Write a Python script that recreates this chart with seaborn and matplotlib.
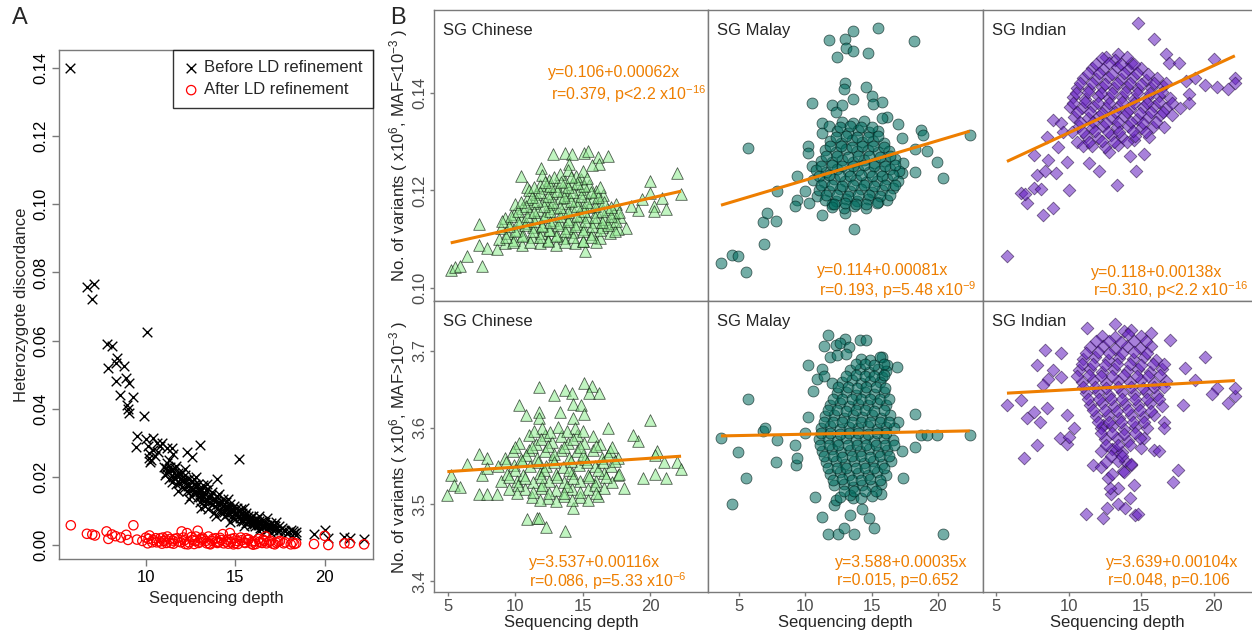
import matplotlib
matplotlib.use("Agg")
import numpy as np
import pandas as pd
import matplotlib.pyplot as plt
import seaborn as sns

sns.set_style("white")
plt.rcParams["font.family"] = ["Liberation Sans", "DejaVu Sans"]
plt.rcParams["mathtext.fontset"] = "custom"
plt.rcParams["mathtext.rm"] = "Liberation Sans"
plt.rcParams["mathtext.it"] = "Liberation Sans:italic"
plt.rcParams["axes.unicode_minus"] = True

# ---------------- panel A: heterozygote discordance ----------------
before_ld = [
    (5.75, 0.1400), (6.70, 0.0758), (7.10, 0.0767), (7.00, 0.0723), (7.80, 0.0590), (8.10, 0.0585),
    (8.40, 0.0550), (7.90, 0.0520), (8.30, 0.0535), (8.80, 0.0525), (8.30, 0.0480), (8.90, 0.0490),
    (9.05, 0.0475), (8.55, 0.0440), (9.30, 0.0435), (8.95, 0.0410), (9.00, 0.0400), (9.05, 0.0387),
    (9.90, 0.0380), (10.05, 0.0625), (9.50, 0.0320), (9.45, 0.0287),
    (10.00, 0.0310), (10.10, 0.0290), (10.20, 0.0270), (10.30, 0.0250), (10.40, 0.0280), (10.60, 0.0300),
    (10.80, 0.0290), (10.15, 0.0255), (10.50, 0.0262), (10.25, 0.0245), (10.40, 0.0315), (10.70, 0.0272),
    (10.90, 0.0300), (11.20, 0.0285), (11.50, 0.0268), (11.45, 0.0284), (12.30, 0.0272), (12.55, 0.0258),
    (13.00, 0.0295), (15.20, 0.0252), (14.00, 0.0193),
    (11.0, 0.0230), (11.1, 0.0210), (11.2, 0.0240), (11.3, 0.0195), (11.4, 0.0220), (11.5, 0.0200),
    (11.6, 0.0225), (11.7, 0.0180), (11.8, 0.0210), (11.9, 0.0195), (12.0, 0.0170), (12.0, 0.0215),
    (12.1, 0.0190), (12.2, 0.0205), (12.3, 0.0160), (12.3, 0.0180), (12.4, 0.0195), (12.5, 0.0145),
    (12.5, 0.0170), (12.6, 0.0185), (12.7, 0.0155), (12.7, 0.0195), (12.8, 0.0170), (12.9, 0.0140),
    (12.9, 0.0180), (13.0, 0.0155), (13.0, 0.0125), (13.1, 0.0165), (13.2, 0.0140), (13.2, 0.0175),
    (13.3, 0.0115), (13.3, 0.0150), (13.4, 0.0130), (13.5, 0.0165), (13.5, 0.0105), (13.6, 0.0140),
    (13.7, 0.0120), (13.7, 0.0155), (13.8, 0.0095), (13.9, 0.0130), (14.0, 0.0110), (14.0, 0.0145),
    (14.1, 0.0125), (14.2, 0.0095), (14.3, 0.0135), (14.3, 0.0115), (14.4, 0.0085), (14.5, 0.0125),
    (14.5, 0.0105), (14.6, 0.0095), (14.7, 0.0120), (14.8, 0.0085), (14.8, 0.0105), (14.9, 0.0115),
    (15.0, 0.0075), (15.0, 0.0095), (15.1, 0.0110), (15.2, 0.0085), (15.3, 0.0105), (15.3, 0.0070),
    (15.4, 0.0095), (15.5, 0.0080), (15.6, 0.0065), (15.6, 0.0095), (15.7, 0.0085), (15.8, 0.0075),
    (15.9, 0.0060), (16.0, 0.0085), (16.0, 0.0070), (16.1, 0.0055), (16.2, 0.0075), (16.3, 0.0065),
    (16.4, 0.0050), (16.5, 0.0070), (16.6, 0.0060), (16.7, 0.0045), (16.8, 0.0080), (16.9, 0.0055),
    (17.0, 0.0065), (17.1, 0.0045), (17.2, 0.0055), (17.4, 0.0040), (17.5, 0.0045), (17.6, 0.0050),
    (17.8, 0.0040), (17.9, 0.0035), (18.1, 0.0045), (18.2, 0.0040), (18.3, 0.0035), (18.4, 0.0030),
    (19.4, 0.0033), (20.0, 0.0045), (20.2, 0.0020), (21.1, 0.0025), (21.4, 0.0020), (22.2, 0.0018),
    (11.05, 0.0205), (11.15, 0.0225), (11.25, 0.0215), (11.35, 0.0230), (11.45, 0.0185), (11.55, 0.0212),
    (11.65, 0.0198), (11.75, 0.0205), (11.85, 0.0182), (11.95, 0.0208), (12.05, 0.0188), (12.15, 0.0168),
    (12.25, 0.0192), (12.35, 0.0172), (12.45, 0.0158), (12.55, 0.0188), (12.65, 0.0165), (12.75, 0.0178),
    (12.85, 0.0155), (12.95, 0.0163), (13.05, 0.0142), (13.15, 0.0150), (13.25, 0.0128), (13.35, 0.0162),
    (13.45, 0.0142), (13.55, 0.0125), (13.65, 0.0148), (13.75, 0.0132), (13.85, 0.0115), (13.95, 0.0140),
    (14.05, 0.0120), (14.15, 0.0102), (14.25, 0.0125), (14.35, 0.0098), (14.45, 0.0112), (14.55, 0.0090),
    (14.65, 0.0110), (14.75, 0.0098), (14.85, 0.0080), (14.95, 0.0102), (15.05, 0.0088), (15.15, 0.0100),
    (15.25, 0.0078), (15.35, 0.0090), (15.45, 0.0072), (15.55, 0.0088), (15.65, 0.0078), (15.75, 0.0068),
    (15.85, 0.0082), (15.95, 0.0070), (16.05, 0.0062), (16.15, 0.0072), (16.25, 0.0058), (16.35, 0.0070),
    (16.45, 0.0062), (16.55, 0.0052), (16.65, 0.0068), (16.75, 0.0058), (16.85, 0.0048), (16.95, 0.0060),
    (17.05, 0.0052), (17.15, 0.0060), (17.30, 0.0048), (17.45, 0.0055), (17.70, 0.0044), (18.00, 0.0038),
    (18.40, 0.0038), (11.3, 0.0250), (11.7, 0.0232), (12.2, 0.0222), (12.8, 0.0200), (13.4, 0.0178),
    (14.1, 0.0150), (14.6, 0.0135), (15.5, 0.0110), (16.3, 0.0085), (17.3, 0.0068), (11.8, 0.0160),
    (12.4, 0.0135), (13.1, 0.0108), (13.9, 0.0085), (14.7, 0.0068), (15.5, 0.0055), (16.3, 0.0042),
    (17.0, 0.0035),
]
after_ld = [
    (5.80, 0.0058), (6.70, 0.0033), (7.00, 0.0031), (7.15, 0.0028), (7.80, 0.0040), (7.90, 0.0018),
    (8.10, 0.0031), (8.30, 0.0026), (8.60, 0.0022), (8.90, 0.0030), (9.00, 0.0015), (9.30, 0.0058),
    (9.50, 0.0016), (9.80, 0.0012), (10.00, 0.0022), (10.20, 0.0028), (10.40, 0.0015), (10.60, 0.0008),
    (10.80, 0.0020), (11.00, 0.0012), (11.20, 0.0025), (11.40, 0.0006), (11.60, 0.0018), (11.80, 0.0010),
    (12.00, 0.0040), (12.10, 0.0022), (12.30, 0.0035), (12.40, 0.0008), (12.60, 0.0015), (12.80, 0.0025),
    (12.90, 0.0042), (13.00, 0.0010), (13.20, 0.0018), (13.40, 0.0005), (13.50, 0.0025), (13.70, 0.0012),
    (13.90, 0.0020), (14.00, 0.0006), (14.20, 0.0015), (14.30, 0.0032), (14.50, 0.0010), (14.70, 0.0035),
    (14.80, 0.0018), (15.00, 0.0005), (15.10, 0.0012), (15.30, 0.0022), (15.50, 0.0008), (15.70, 0.0015),
    (15.90, 0.0004), (16.10, 0.0011), (16.30, 0.0018), (16.50, 0.0006), (16.70, 0.0025), (16.90, 0.0009),
    (17.10, 0.0004), (17.40, 0.0010), (17.70, 0.0005), (18.20, 0.0008), (18.30, 0.0003), (19.40, 0.0003),
    (20.00, 0.0027), (20.20, 0.0000), (21.10, 0.0005), (21.40, 0.0005), (22.20, 0.0002),
    (10.10, 0.0005), (10.90, 0.0004), (11.50, 0.0013), (12.20, 0.0003), (13.10, 0.0016), (13.60, 0.0002),
    (14.10, 0.0009), (14.90, 0.0002), (15.60, 0.0020), (16.00, 0.0001), (16.60, 0.0012), (17.30, 0.0007),
    (11.10, 0.0016), (12.70, 0.0003), (14.60, 0.0004),
    (10.15, 0.0018), (10.35, 0.0008), (10.55, 0.0020), (10.75, 0.0010), (10.95, 0.0022), (11.15, 0.0006),
    (11.35, 0.0018), (11.55, 0.0004), (11.75, 0.0020), (11.95, 0.0008), (12.15, 0.0014), (12.35, 0.0002),
    (12.55, 0.0024), (12.75, 0.0012), (12.95, 0.0006), (13.15, 0.0022), (13.35, 0.0012), (13.55, 0.0004),
    (13.75, 0.0018), (13.95, 0.0009), (14.15, 0.0021), (14.35, 0.0005), (14.55, 0.0016), (14.75, 0.0008),
    (14.95, 0.0020), (15.15, 0.0003), (15.35, 0.0014), (15.55, 0.0006), (15.75, 0.0017), (15.95, 0.0010),
    (16.15, 0.0003), (16.35, 0.0009), (16.55, 0.0016), (16.75, 0.0005), (16.95, 0.0013), (17.20, 0.0002),
    (17.50, 0.0012), (17.80, 0.0008), (18.10, 0.0002), (18.40, 0.0005),
]

# ---------------- panel B: variants vs depth ----------------
groups = ["SG Chinese", "SG Malay", "SG Indian"]

chinese_rare = [
    (5.2, 0.1037), (5.5, 0.1043), (5.9, 0.1045), (6.4, 0.1066), (7.5, 0.1045), (7.3, 0.1130), (7.3, 0.1088),
    (7.9, 0.1082), (8.6, 0.1080), (15.15, 0.1076), (18.2, 0.1123), (22.0, 0.1236), (22.3, 0.1193),
    (20.0, 0.1220), (20.0, 0.1195), (20.9, 0.1185), (21.2, 0.1162), (20.3, 0.1168), (20.3, 0.1157),
    (19.4, 0.1182), (19.1, 0.1159), (18.6, 0.1168), (12.8, 0.1275), (13.7, 0.1277), (14.2, 0.1275),
    (15.1, 0.1277), (15.4, 0.1280), (16.1, 0.1268), (16.85, 0.1270), (16.2, 0.1254), (14.0, 0.1254),
    (15.7, 0.1252), (11.9, 0.1246), (10.4, 0.1230), (10.9, 0.1207),
    (9.2, 0.1092), (10.5, 0.1088), (11.8, 0.1091), (13.0, 0.1087), (14.4, 0.1093),
    (8.8, 0.1101), (9.9, 0.1098), (11.2, 0.1104), (12.4, 0.1099), (13.6, 0.1102), (15.0, 0.1097), (16.3, 0.1103),
    (9.4, 0.1112), (10.6, 0.1108), (11.9, 0.1113), (13.1, 0.1109), (14.3, 0.1114), (15.7, 0.1110), (17.0, 0.1112),
    (8.9, 0.1122), (10.1, 0.1119), (11.3, 0.1124), (12.6, 0.1118), (13.8, 0.1123), (15.1, 0.1120), (16.4, 0.1125),
    (17.6, 0.1121), (9.6, 0.1131), (10.8, 0.1134), (12.0, 0.1129), (13.3, 0.1133), (14.6, 0.1130), (15.9, 0.1135),
    (17.1, 0.1132), (9.2, 0.1143), (10.4, 0.1140), (11.6, 0.1144), (12.8, 0.1139), (14.0, 0.1142), (15.3, 0.1145),
    (16.6, 0.1141), (17.8, 0.1146), (9.9, 0.1152), (11.1, 0.1155), (12.3, 0.1151), (13.5, 0.1154), (14.8, 0.1150),
    (16.0, 0.1156), (17.3, 0.1153), (10.5, 0.1163), (11.7, 0.1160), (12.9, 0.1164), (14.2, 0.1161), (15.5, 0.1165),
    (16.8, 0.1162), (10.0, 0.1172), (11.3, 0.1175), (12.5, 0.1171), (13.7, 0.1174), (15.0, 0.1170), (16.2, 0.1176),
    (17.5, 0.1173), (10.9, 0.1183), (12.1, 0.1180), (13.3, 0.1184), (14.5, 0.1181), (15.8, 0.1185),
    (11.5, 0.1192), (12.7, 0.1195), (13.9, 0.1191), (15.2, 0.1194), (16.5, 0.1190),
    (11.0, 0.1201), (12.3, 0.1204), (13.5, 0.1200), (14.8, 0.1203), (16.0, 0.1199),
    (11.8, 0.1212), (13.0, 0.1209), (14.2, 0.1213), (15.5, 0.1210), (12.5, 0.1222), (13.7, 0.1219), (14.9, 0.1224),
    (12.0, 0.1231), (13.3, 0.1234), (14.5, 0.1230), (13.9, 0.1242), (15.0, 0.1239),
    (9.8, 0.1095), (11.1, 0.1094), (12.4, 0.1096), (13.7, 0.1094), (15.0, 0.1096), (16.0, 0.1095),
    (9.3, 0.1105), (10.5, 0.1106), (11.8, 0.1104), (13.0, 0.1106), (14.3, 0.1105), (15.6, 0.1104),
    (10.0, 0.1117), (11.3, 0.1116), (12.5, 0.1118), (13.7, 0.1116), (15.0, 0.1117), (16.3, 0.1118), (17.4, 0.1116),
    (9.5, 0.1127), (10.7, 0.1128), (12.0, 0.1126), (13.2, 0.1128), (14.4, 0.1127), (15.7, 0.1126), (16.9, 0.1128),
    (9.0, 0.1137), (10.2, 0.1136), (11.4, 0.1138), (12.6, 0.1136), (13.9, 0.1137), (15.2, 0.1138), (16.4, 0.1136),
    (17.5, 0.1137), (9.7, 0.1147), (10.9, 0.1148), (12.1, 0.1146), (13.3, 0.1148), (14.6, 0.1147), (15.9, 0.1146),
    (17.1, 0.1148), (10.2, 0.1157), (11.4, 0.1156), (12.6, 0.1158), (13.9, 0.1156), (15.1, 0.1157), (16.4, 0.1158),
    (17.7, 0.1156), (10.8, 0.1167), (12.1, 0.1168), (13.3, 0.1166), (14.6, 0.1168), (15.9, 0.1167), (17.1, 0.1166),
    (10.4, 0.1177), (11.6, 0.1178), (12.8, 0.1176), (14.1, 0.1178), (15.3, 0.1177), (16.6, 0.1176),
    (11.2, 0.1187), (12.4, 0.1188), (13.6, 0.1186), (14.9, 0.1188), (16.1, 0.1187),
    (11.8, 0.1197), (13.1, 0.1198), (14.3, 0.1196), (15.6, 0.1197),
    (11.4, 0.1207), (12.6, 0.1208), (13.9, 0.1206), (15.1, 0.1208), (16.3, 0.1207),
    (12.2, 0.1217), (13.4, 0.1218), (14.6, 0.1216), (12.9, 0.1227), (14.1, 0.1228), (15.3, 0.1226),
]
malay_rare = [
    (3.65, 0.1051), (4.5, 0.1068), (4.9, 0.1066), (5.5, 0.1033), (6.9, 0.1090), (6.8, 0.1135), (7.1, 0.1154),
    (7.8, 0.1137), (7.85, 0.1199), (5.7, 0.1287), (9.35, 0.1230), (9.4, 0.1180), (9.2, 0.1168), (10.0, 0.1199),
    (10.2, 0.1291), (10.2, 0.1277), (10.5, 0.1380), (11.8, 0.1509), (13.0, 0.1510), (13.6, 0.1527),
    (15.45, 0.1533), (18.2, 0.1507), (13.1, 0.1492), (13.6, 0.1486), (12.4, 0.1474), (14.7, 0.1482),
    (13.0, 0.1420), (12.9, 0.1408), (14.55, 0.1412), (15.0, 0.1394), (15.75, 0.1382), (15.1, 0.1377),
    (13.6, 0.1387), (12.0, 0.1375), (12.3, 0.1361), (12.8, 0.1375), (13.7, 0.1121), (22.4, 0.1314),
    (18.75, 0.1324), (18.9, 0.1314), (19.2, 0.1281), (19.95, 0.1258), (20.4, 0.1225), (18.3, 0.1238),
    (18.3, 0.1285), (17.3, 0.1236), (17.4, 0.1256), (17.3, 0.1308), (17.0, 0.1336), (16.2, 0.1350),
    (15.8, 0.1349), (11.3, 0.1339), (11.3, 0.1318), (11.8, 0.1332), (10.5, 0.1250), (10.9, 0.1188),
    (10.3, 0.1174), (11.3, 0.1150), (13.0, 0.1154), (12.05, 0.1172),
    (12.8, 0.1341), (13.6, 0.1338), (14.4, 0.1343), (12.4, 0.1322), (13.2, 0.1318), (14.0, 0.1324), (14.8, 0.1319),
    (15.5, 0.1321), (11.9, 0.1301), (12.7, 0.1298), (13.5, 0.1303), (14.3, 0.1299), (15.1, 0.1302), (15.9, 0.1297),
    (11.5, 0.1282), (12.3, 0.1279), (13.1, 0.1284), (13.9, 0.1280), (14.7, 0.1283), (15.5, 0.1278), (16.3, 0.1281),
    (11.2, 0.1261), (12.0, 0.1258), (12.8, 0.1263), (13.6, 0.1259), (14.4, 0.1262), (15.2, 0.1257), (16.0, 0.1260),
    (16.8, 0.1264), (10.8, 0.1241), (11.6, 0.1238), (12.4, 0.1243), (13.2, 0.1239), (14.0, 0.1242), (14.8, 0.1237),
    (15.6, 0.1240), (16.4, 0.1244), (17.1, 0.1239), (10.6, 0.1221), (11.4, 0.1218), (12.2, 0.1223), (13.0, 0.1219),
    (13.8, 0.1222), (14.6, 0.1217), (15.4, 0.1220), (16.2, 0.1224), (17.0, 0.1219), (11.0, 0.1201), (11.8, 0.1198),
    (12.6, 0.1203), (13.4, 0.1199), (14.2, 0.1202), (15.0, 0.1197), (15.8, 0.1200), (16.6, 0.1204),
    (11.5, 0.1181), (12.3, 0.1178), (13.1, 0.1183), (13.9, 0.1179), (14.7, 0.1182), (15.5, 0.1177), (16.2, 0.1180),
    (12.0, 0.1166), (12.9, 0.1163), (13.7, 0.1167), (14.6, 0.1164),
    (12.6, 0.1330), (13.4, 0.1331), (14.2, 0.1329), (15.0, 0.1330), (12.3, 0.1310), (13.1, 0.1311), (13.9, 0.1309),
    (14.7, 0.1310), (15.5, 0.1311), (11.9, 0.1290), (12.7, 0.1291), (13.5, 0.1289), (14.3, 0.1290), (15.1, 0.1291),
    (15.9, 0.1289), (11.6, 0.1270), (12.4, 0.1271), (13.2, 0.1269), (14.0, 0.1270), (14.8, 0.1271), (15.6, 0.1269),
    (16.4, 0.1270), (11.2, 0.1250), (12.0, 0.1251), (12.8, 0.1249), (13.6, 0.1250), (14.4, 0.1251), (15.2, 0.1249),
    (16.0, 0.1250), (16.8, 0.1251), (11.0, 0.1230), (11.8, 0.1231), (12.6, 0.1229), (13.4, 0.1230), (14.2, 0.1231),
    (15.0, 0.1229), (15.8, 0.1230), (16.6, 0.1231), (11.2, 0.1210), (12.0, 0.1211), (12.8, 0.1209), (13.6, 0.1210),
    (14.4, 0.1211), (15.2, 0.1209), (16.0, 0.1210), (16.8, 0.1211), (11.6, 0.1190), (12.4, 0.1191), (13.2, 0.1189),
    (14.0, 0.1190), (14.8, 0.1191), (15.6, 0.1189), (16.4, 0.1190), (12.2, 0.1173), (13.0, 0.1174), (13.8, 0.1172),
    (14.6, 0.1173), (15.4, 0.1174),
]
indian_rare = [
    (5.75, 0.1066), (6.7, 0.1195), (7.1, 0.1174), (7.0, 0.1193), (8.25, 0.1150), (8.95, 0.1164), (10.05, 0.1201),
    (7.6, 0.1205), (8.1, 0.1203), (7.8, 0.1232), (8.35, 0.1240), (9.1, 0.1236), (8.6, 0.1263), (7.6, 0.1273),
    (8.5, 0.1310), (8.9, 0.1345), (9.45, 0.1339), (9.25, 0.1289), (9.9, 0.1258), (13.3, 0.1211), (14.65, 0.1240),
    (15.2, 0.1275), (12.1, 0.1240), (11.4, 0.1256), (12.8, 0.1279), (14.25, 0.1270), (14.8, 0.1544),
    (15.9, 0.1510), (12.6, 0.1474), (13.4, 0.1480), (14.3, 0.1461), (16.7, 0.1480), (16.9, 0.1461),
    (17.6, 0.1461), (20.0, 0.1470), (19.4, 0.1416), (20.2, 0.1412), (21.0, 0.1408), (21.45, 0.1431),
    (21.45, 0.1420), (18.7, 0.1431), (18.1, 0.1425), (18.3, 0.1398), (18.3, 0.1380), (17.65, 0.1369),
    (17.1, 0.1355), (16.6, 0.1330), (15.55, 0.1310), (14.5, 0.1304), (9.6, 0.1320), (10.2, 0.1320),
    (10.6, 0.1300), (11.0, 0.1290),
    (12.3, 0.1471), (13.2, 0.1468), (14.0, 0.1473), (11.6, 0.1451), (12.4, 0.1448), (13.3, 0.1453), (14.1, 0.1449),
    (15.0, 0.1452), (11.0, 0.1431), (11.9, 0.1428), (12.7, 0.1433), (13.6, 0.1429), (14.4, 0.1432), (15.3, 0.1427),
    (16.1, 0.1430), (10.6, 0.1411), (11.4, 0.1408), (12.3, 0.1413), (13.1, 0.1409), (14.0, 0.1412), (14.8, 0.1407),
    (15.7, 0.1410), (16.5, 0.1414), (10.3, 0.1391), (11.1, 0.1388), (12.0, 0.1393), (12.8, 0.1389), (13.7, 0.1392),
    (14.5, 0.1387), (15.4, 0.1390), (16.2, 0.1394), (17.0, 0.1389), (10.1, 0.1371), (10.9, 0.1368), (11.7, 0.1373),
    (12.6, 0.1369), (13.4, 0.1372), (14.2, 0.1367), (15.1, 0.1370), (15.9, 0.1374), (16.7, 0.1369),
    (10.4, 0.1351), (11.3, 0.1348), (12.1, 0.1353), (13.0, 0.1349), (13.8, 0.1352), (14.7, 0.1347), (15.5, 0.1350),
    (16.3, 0.1354), (10.7, 0.1331), (11.6, 0.1328), (12.4, 0.1333), (13.3, 0.1329), (14.1, 0.1332), (15.0, 0.1327),
    (15.8, 0.1330), (11.2, 0.1311), (12.0, 0.1308), (12.9, 0.1313), (13.7, 0.1309), (14.6, 0.1312),
    (11.6, 0.1291), (12.5, 0.1288), (13.4, 0.1293),
    (11.9, 0.1460), (12.8, 0.1461), (13.6, 0.1459), (14.5, 0.1460), (11.3, 0.1440), (12.1, 0.1441), (13.0, 0.1439),
    (13.8, 0.1440), (14.7, 0.1441), (15.5, 0.1439), (10.8, 0.1420), (11.6, 0.1421), (12.5, 0.1419), (13.3, 0.1420),
    (14.2, 0.1421), (15.0, 0.1419), (15.9, 0.1420), (16.7, 0.1421), (10.5, 0.1400), (11.3, 0.1401), (12.2, 0.1399),
    (13.0, 0.1400), (13.9, 0.1401), (14.7, 0.1399), (15.6, 0.1400), (16.4, 0.1401), (10.3, 0.1380), (11.1, 0.1381),
    (12.0, 0.1379), (12.8, 0.1380), (13.7, 0.1381), (14.5, 0.1379), (15.4, 0.1380), (16.2, 0.1381), (17.1, 0.1379),
    (10.6, 0.1360), (11.5, 0.1361), (12.3, 0.1359), (13.2, 0.1360), (14.0, 0.1361), (14.9, 0.1359), (15.7, 0.1360),
    (16.5, 0.1361), (10.8, 0.1340), (11.7, 0.1341), (12.6, 0.1339), (13.4, 0.1340), (14.3, 0.1341), (15.1, 0.1339),
    (16.0, 0.1340), (11.0, 0.1320), (11.8, 0.1321), (12.7, 0.1319), (13.5, 0.1320), (14.4, 0.1321), (15.3, 0.1319),
    (11.4, 0.1300), (12.3, 0.1301), (13.1, 0.1299), (14.0, 0.1300),
]

chinese_common = [
    (4.95, 3.5117), (5.2, 3.538), (5.45, 3.526), (5.9, 3.523), (6.4, 3.553), (7.3, 3.566), (7.3, 3.513),
    (7.9, 3.561), (7.9, 3.514), (8.6, 3.514), (7.5, 3.538), (7.9, 3.548), (11.75, 3.653), (10.3, 3.629),
    (10.8, 3.617), (11.75, 3.620), (11.75, 3.612), (12.9, 3.642), (13.3, 3.620), (13.7, 3.649), (14.2, 3.645),
    (14.3, 3.631), (15.1, 3.658), (15.7, 3.654), (15.45, 3.645), (16.2, 3.645), (14.9, 3.630), (15.1, 3.618),
    (14.3, 3.613), (10.9, 3.481), (11.6, 3.483), (11.75, 3.482), (12.3, 3.471), (13.7, 3.465), (14.3, 3.496),
    (20.0, 3.610), (20.5, 3.570), (20.4, 3.564), (21.0, 3.555), (21.2, 3.535), (20.4, 3.540), (22.0, 3.555),
    (22.3, 3.546), (19.5, 3.535), (19.1, 3.583), (18.7, 3.591), (18.1, 3.521), (17.6, 3.538), (16.85, 3.599),
    (9.5, 3.5205), (10.7, 3.5195), (11.9, 3.5210), (13.0, 3.5190), (14.2, 3.5205), (15.4, 3.5195), (16.6, 3.5210),
    (8.9, 3.5300), (10.1, 3.5310), (11.3, 3.5295), (12.5, 3.5305), (13.6, 3.5290), (14.8, 3.5310), (16.0, 3.5300),
    (17.2, 3.5295), (9.4, 3.5400), (10.6, 3.5390), (11.8, 3.5410), (13.0, 3.5395), (14.2, 3.5405), (15.4, 3.5390),
    (16.6, 3.5410), (17.7, 3.5400), (8.7, 3.5500), (9.9, 3.5510), (11.1, 3.5495), (12.3, 3.5505), (13.5, 3.5490),
    (14.7, 3.5510), (15.9, 3.5500), (17.1, 3.5495), (9.2, 3.5600), (10.4, 3.5590), (11.6, 3.5610), (12.8, 3.5595),
    (14.0, 3.5605), (15.2, 3.5590), (16.4, 3.5610), (17.6, 3.5600), (9.8, 3.5700), (11.0, 3.5710), (12.2, 3.5695),
    (13.4, 3.5705), (14.6, 3.5690), (15.8, 3.5710), (17.0, 3.5700), (10.3, 3.5800), (11.5, 3.5790), (12.7, 3.5810),
    (13.9, 3.5795), (15.1, 3.5805), (16.3, 3.5790), (11.0, 3.5900), (12.2, 3.5910), (13.4, 3.5895), (14.6, 3.5905),
    (15.8, 3.5890), (12.0, 3.6000), (13.2, 3.6010), (14.4, 3.5995), (11.2, 3.5100), (12.4, 3.5090), (13.6, 3.5105),
    (14.8, 3.5095), (16.1, 3.5110), (10.2, 3.5250), (12.0, 3.5255), (13.8, 3.5245), (15.9, 3.5250),
    (10.0, 3.5450), (12.1, 3.5455), (14.0, 3.5445), (16.1, 3.5450), (10.8, 3.5650), (12.9, 3.5655), (15.0, 3.5645),
    (16.9, 3.5650), (11.9, 3.5850), (14.3, 3.5855),
    (10.1, 3.5155), (11.3, 3.5160), (12.5, 3.5150), (13.6, 3.5155), (14.8, 3.5160), (16.0, 3.5150),
    (9.5, 3.5355), (10.7, 3.5350), (11.9, 3.5360), (13.1, 3.5355), (14.3, 3.5350), (15.5, 3.5360), (16.7, 3.5355),
    (9.3, 3.5555), (10.5, 3.5560), (11.7, 3.5550), (12.9, 3.5555), (14.1, 3.5560), (15.3, 3.5550), (16.5, 3.5555),
    (17.4, 3.5560), (10.0, 3.5755), (11.2, 3.5750), (12.4, 3.5760), (13.6, 3.5755), (14.8, 3.5750), (16.0, 3.5760),
    (17.2, 3.5755), (11.4, 3.5955), (12.6, 3.5950), (13.8, 3.5960), (15.0, 3.5955), (11.8, 3.5055), (13.0, 3.5050),
    (14.2, 3.5060), (15.4, 3.5055),
]
malay_common = [
    (3.65, 3.587), (4.9, 3.568), (4.5, 3.500), (5.5, 3.534), (5.7, 3.638), (6.8, 3.596), (7.0, 3.599),
    (7.8, 3.555), (7.85, 3.584), (9.3, 3.551), (9.4, 3.560), (9.2, 3.577), (10.0, 3.593), (10.2, 3.614),
    (10.2, 3.682), (10.55, 3.648), (10.7, 3.510), (11.3, 3.484), (11.7, 3.462), (12.45, 3.462), (12.9, 3.469),
    (13.7, 3.462), (13.4, 3.486), (14.3, 3.494), (14.8, 3.483), (15.2, 3.469), (20.4, 3.461), (12.2, 3.499),
    (12.3, 3.506), (13.6, 3.509), (15.7, 3.513), (17.4, 3.535), (18.3, 3.575), (18.3, 3.618), (17.3, 3.569),
    (18.75, 3.591), (19.2, 3.590), (19.95, 3.590), (22.4, 3.590), (17.0, 3.608), (16.95, 3.679), (16.2, 3.682),
    (15.8, 3.692), (15.8, 3.666), (11.7, 3.721), (13.0, 3.715), (14.1, 3.714), (14.6, 3.714), (11.4, 3.706),
    (12.3, 3.708), (12.6, 3.710), (13.3, 3.705), (11.85, 3.692), (12.4, 3.695), (13.1, 3.696), (11.3, 3.677),
    (10.9, 3.664), (11.45, 3.667), (12.0, 3.658),
    (14.2, 3.690), (14.9, 3.688), (15.6, 3.692), (13.4, 3.675), (14.1, 3.677), (14.8, 3.673), (15.5, 3.676),
    (16.1, 3.674), (12.8, 3.660), (13.5, 3.662), (14.2, 3.658), (14.9, 3.661), (15.6, 3.659), (12.4, 3.645),
    (13.1, 3.647), (13.8, 3.643), (14.5, 3.646), (15.2, 3.644), (15.9, 3.647), (11.9, 3.630), (12.6, 3.632),
    (13.3, 3.628), (14.0, 3.631), (14.7, 3.629), (15.4, 3.632), (16.1, 3.630), (11.5, 3.615), (12.2, 3.617),
    (12.9, 3.613), (13.6, 3.616), (14.3, 3.614), (15.0, 3.617), (15.7, 3.613), (16.4, 3.616), (11.2, 3.600),
    (11.9, 3.602), (12.6, 3.598), (13.3, 3.601), (14.0, 3.599), (14.7, 3.602), (15.4, 3.598), (16.1, 3.601),
    (16.7, 3.599), (11.0, 3.585), (11.7, 3.587), (12.4, 3.583), (13.1, 3.586), (13.8, 3.584), (14.5, 3.587),
    (15.2, 3.583), (15.9, 3.586), (16.6, 3.584), (11.3, 3.570), (12.0, 3.572), (12.7, 3.568), (13.4, 3.571),
    (14.1, 3.569), (14.8, 3.572), (15.5, 3.568), (16.2, 3.571), (11.6, 3.555), (12.3, 3.557), (13.0, 3.553),
    (13.7, 3.556), (14.4, 3.554), (15.1, 3.557), (15.8, 3.553), (16.5, 3.556), (11.9, 3.540), (12.6, 3.542),
    (13.3, 3.538), (14.0, 3.541), (14.7, 3.539), (15.4, 3.542), (16.1, 3.538), (12.2, 3.525), (12.9, 3.527),
    (13.6, 3.523), (14.3, 3.526), (15.0, 3.524), (15.7, 3.527), (12.6, 3.510), (13.4, 3.512), (14.2, 3.508),
    (15.0, 3.511),
    (13.8, 3.6825), (14.5, 3.6830), (15.2, 3.6820), (15.9, 3.6825), (13.1, 3.6675), (13.8, 3.6680), (14.5, 3.6670),
    (15.2, 3.6675), (15.9, 3.6680), (12.5, 3.6525), (13.2, 3.6530), (13.9, 3.6520), (14.6, 3.6525), (15.3, 3.6530),
    (16.0, 3.6520), (12.1, 3.6375), (12.8, 3.6380), (13.5, 3.6370), (14.2, 3.6375), (14.9, 3.6380), (15.6, 3.6370),
    (16.3, 3.6375), (11.7, 3.6225), (12.4, 3.6230), (13.1, 3.6220), (13.8, 3.6225), (14.5, 3.6230), (15.2, 3.6220),
    (15.9, 3.6225), (11.4, 3.6075), (12.1, 3.6080), (12.8, 3.6070), (13.5, 3.6075), (14.2, 3.6080), (14.9, 3.6070),
    (15.6, 3.6075), (16.3, 3.6080), (11.2, 3.5925), (11.9, 3.5930), (12.6, 3.5920), (13.3, 3.5925), (14.0, 3.5930),
    (14.7, 3.5920), (15.4, 3.5925), (16.1, 3.5930), (11.1, 3.5775), (11.8, 3.5780), (12.5, 3.5770), (13.2, 3.5775),
    (13.9, 3.5780), (14.6, 3.5770), (15.3, 3.5775), (16.0, 3.5780), (16.7, 3.5770), (11.4, 3.5625), (12.1, 3.5630),
    (12.8, 3.5620), (13.5, 3.5625), (14.2, 3.5630), (14.9, 3.5620), (15.6, 3.5625), (16.3, 3.5630), (11.7, 3.5475),
    (12.4, 3.5480), (13.1, 3.5470), (13.8, 3.5475), (14.5, 3.5480), (15.2, 3.5470), (15.9, 3.5475), (12.1, 3.5325),
    (12.8, 3.5330), (13.5, 3.5320), (14.2, 3.5325), (14.9, 3.5330), (15.6, 3.5320), (12.9, 3.5175), (13.7, 3.5180),
    (14.5, 3.5170), (15.3, 3.5175),
]
indian_common = [
    (5.75, 3.630), (6.7, 3.636), (6.95, 3.560), (7.1, 3.612), (7.6, 3.621), (8.05, 3.608), (7.85, 3.577),
    (7.8, 3.682), (8.35, 3.701), (8.55, 3.664), (8.2, 3.656), (8.5, 3.626), (8.9, 3.675), (9.45, 3.697),
    (9.5, 3.666), (9.4, 3.586), (9.9, 3.579), (10.05, 3.588), (9.9, 3.616), (10.4, 3.600), (11.25, 3.730),
    (13.2, 3.735), (13.8, 3.726), (14.3, 3.727), (15.7, 3.723), (17.0, 3.714), (19.4, 3.692), (18.0, 3.678),
    (18.7, 3.662), (20.2, 3.652), (19.9, 3.644), (21.0, 3.632), (21.45, 3.641), (21.45, 3.652), (17.2, 3.529),
    (17.5, 3.545), (17.85, 3.629), (11.2, 3.488), (12.4, 3.482), (12.65, 3.495), (13.4, 3.500), (13.9, 3.496),
    (14.6, 3.486), (14.8, 3.488), (14.2, 3.508), (12.9, 3.513), (13.4, 3.521), (14.5, 3.526), (12.85, 3.522),
    (11.65, 3.552), (12.2, 3.549), (12.7, 3.535), (13.75, 3.544), (14.3, 3.552), (13.9, 3.557), (13.25, 3.571),
    (15.0, 3.574), (15.9, 3.571), (16.2, 3.569), (15.2, 3.587), (16.6, 3.608), (16.6, 3.599), (12.4, 3.603),
    (12.3, 3.720), (13.2, 3.718), (14.1, 3.722), (15.0, 3.719), (11.5, 3.705), (12.4, 3.707), (13.2, 3.703),
    (14.0, 3.706), (14.9, 3.704), (15.7, 3.707), (11.0, 3.690), (11.8, 3.692), (12.7, 3.688), (13.5, 3.691),
    (14.4, 3.689), (15.2, 3.692), (16.0, 3.688), (10.7, 3.675), (11.5, 3.677), (12.3, 3.673), (13.1, 3.676),
    (14.0, 3.674), (14.8, 3.677), (15.6, 3.673), (16.4, 3.676), (10.9, 3.660), (11.7, 3.662), (12.6, 3.658),
    (13.4, 3.661), (14.2, 3.659), (15.0, 3.662), (15.9, 3.658), (16.7, 3.661), (11.2, 3.645), (12.0, 3.647),
    (12.8, 3.643), (13.7, 3.646), (14.5, 3.644), (15.3, 3.647), (16.1, 3.643), (11.5, 3.630), (12.3, 3.632),
    (13.1, 3.628), (13.9, 3.631), (14.8, 3.629), (15.6, 3.632), (16.4, 3.628), (11.9, 3.615), (12.7, 3.617),
    (13.5, 3.613), (14.3, 3.616), (15.1, 3.614), (15.9, 3.617), (12.2, 3.600), (13.0, 3.602), (13.8, 3.598),
    (14.6, 3.601), (15.4, 3.599), (12.5, 3.585), (13.3, 3.587), (14.1, 3.583), (14.9, 3.586), (12.2, 3.570),
    (13.0, 3.572), (13.7, 3.568), (12.6, 3.555), (13.4, 3.557), (14.3, 3.553), (13.0, 3.540), (13.8, 3.542),
    (11.9, 3.7125), (12.8, 3.7130), (13.6, 3.7120), (14.5, 3.7125), (15.3, 3.7130), (11.2, 3.6975), (12.0, 3.6980),
    (12.8, 3.6970), (13.7, 3.6975), (14.5, 3.6980), (15.4, 3.6970), (10.9, 3.6825), (11.7, 3.6830), (12.5, 3.6820),
    (13.3, 3.6825), (14.2, 3.6830), (15.0, 3.6820), (15.8, 3.6825), (16.6, 3.6830), (10.6, 3.6675), (11.4, 3.6680),
    (12.2, 3.6670), (13.0, 3.6675), (13.8, 3.6680), (14.7, 3.6670), (15.5, 3.6675), (16.3, 3.6680), (11.0, 3.6525),
    (11.8, 3.6530), (12.6, 3.6520), (13.4, 3.6525), (14.3, 3.6530), (15.1, 3.6520), (15.9, 3.6525), (16.6, 3.6530),
    (11.3, 3.6375), (12.1, 3.6380), (12.9, 3.6370), (13.7, 3.6375), (14.6, 3.6380), (15.4, 3.6370), (16.2, 3.6375),
    (11.7, 3.6225), (12.5, 3.6230), (13.3, 3.6220), (14.1, 3.6225), (14.9, 3.6230), (15.7, 3.6220), (12.0, 3.6075),
    (12.8, 3.6080), (13.6, 3.6070), (14.4, 3.6075), (15.2, 3.6080), (12.2, 3.5925), (13.0, 3.5930), (13.8, 3.5920),
    (14.6, 3.5925), (12.6, 3.5775), (13.4, 3.5780), (14.2, 3.5770), (12.9, 3.5625), (13.7, 3.5630),
]

rare_intercepts = [0.106, 0.114, 0.118]
rare_slopes = [0.00062, 0.00081, 0.00138]
rare_stats = ["r=0.379, p<2.2 x10$^{-16}$", "r=0.193, p=5.48 x10$^{-9}$", "r=0.310, p<2.2 x10$^{-16}$"]
common_intercepts = [3.537, 3.588, 3.639]
common_slopes = [0.00116, 0.00035, 0.00104]
common_stats = ["r=0.086, p=5.33 x10$^{-6}$", "r=0.015, p=0.652", "r=0.048, p=0.106"]

# ---------------- layout (pixels) ----------------
W, H = 1252, 633
fig = plt.figure(figsize=(W / 100, H / 100), dpi=100)


def box(l, t, r, b):
    return [l / W, 1 - b / H, (r - l) / W, (b - t) / H]


def ftext(px, py, s, **kw):
    fig.text(px / W, 1 - py / H, s, **kw)


SPINE = "#7a7a7a"
TICKC = "#4d4d4d"
ORANGE = "#EE7E00"

# panel A
axA = fig.add_axes(box(59, 50, 373, 559))
dfb = pd.DataFrame(before_ld, columns=["depth", "disc"])
dfa = pd.DataFrame(after_ld, columns=["depth", "disc"])
sns.scatterplot(data=dfb, x="depth", y="disc", marker="x", color="black", s=48,
                linewidth=1.0, label="Before LD refinement", ax=axA)
sns.scatterplot(data=dfa, x="depth", y="disc", marker="o", color="red", facecolor="none",
                edgecolor="red", s=45, linewidth=0.9, label="After LD refinement", ax=axA)
axA.set_xlim(5.14, 22.7)
axA.set_ylim(-0.0041, 0.1453)
axA.set_xticks([10, 15, 20])
axA.set_yticks(np.arange(0, 0.141, 0.02))
axA.set_yticklabels([f"{v:.2f}" for v in np.arange(0, 0.141, 0.02)], rotation=90, va="center")
axA.tick_params(axis="both", labelsize=12, length=5, width=1, color=SPINE, pad=3, labelcolor="black",
                direction="out", bottom=True, left=True)
for sp in axA.spines.values():
    sp.set_color(SPINE)
    sp.set_linewidth(1)
axA.set_xlabel("")
axA.set_ylabel("")
leg = axA.legend(loc="upper right", borderaxespad=0, fancybox=False, edgecolor="black",
                 fontsize=12, handletextpad=0.3, borderpad=0.6, labelspacing=0.45, handlelength=1.0)
leg.get_frame().set_linewidth(1)
ftext(216, 598, "Sequencing depth", ha="center", va="center", fontsize=12)
ftext(22, 305, "Heterozygote discordance", ha="center", va="center", rotation=90, fontsize=12)
ftext(20, 18, "A", ha="center", va="center", fontsize=17)
ftext(398, 18, "B", ha="center", va="center", fontsize=17)

# panel B
col_edges = [434, 708, 983, 1253]
row_edges = [10, 301, 592]
xlims = [(3.96, 24.3), (2.67, 23.4), (4.1, 22.7)]
rows = [
    ([chinese_rare, malay_rare, indian_rare], rare_intercepts, rare_slopes, rare_stats, (0.0973, 0.157),
     [0.10, 0.12, 0.14], ["0.10", "0.12", "0.14"]),
    ([chinese_common, malay_common, indian_common], common_intercepts, common_slopes, common_stats,
     (3.386, 3.765), [3.4, 3.5, 3.6, 3.7], ["3.4", "3.5", "3.6", "3.7"]),
]
styles = [
    dict(marker="^", s=70, color=(0.56, 0.93, 0.56, 0.55), edgecolor=(0.05, 0.1, 0.05, 0.7), linewidth=0.6),
    dict(marker="o", s=62, color=(0.0, 0.42, 0.37, 0.55), edgecolor=(0.0, 0.12, 0.1, 0.65), linewidth=0.6),
    dict(marker="D", s=42, color=(0.38, 0.10, 0.75, 0.55), edgecolor=(0.15, 0.05, 0.25, 0.6), linewidth=0.6),
]
# equation label anchor positions (left x, centre y) per row / column
eq_pos = [
    [(548, 72, 551, 94), (817, 270, 819, 290), (1091, 272, 1093, 290)],
    [(529, 562, 529, 581), (835, 562, 837, 581), (1106, 562, 1108, 581)],
]

for r, (sets, icpts, slopes, stats, ylim, yt, ytl) in enumerate(rows):
    for c in range(3):
        ax = fig.add_axes(box(col_edges[c], row_edges[r], col_edges[c + 1], row_edges[r + 1]))
        df = pd.DataFrame(sets[c], columns=["depth", "variants"])
        sns.scatterplot(data=df, x="depth", y="variants", ax=ax, **styles[c])
        lo, hi = df["depth"].min(), df["depth"].max()
        ax.plot([lo, hi], [icpts[c] + slopes[c] * lo, icpts[c] + slopes[c] * hi],
                color=ORANGE, linewidth=2.2, solid_capstyle="butt")
        ax.set_xlim(*xlims[c])
        ax.set_ylim(*ylim)
        ax.set_xlabel("")
        ax.set_ylabel("")
        ax.set_xticks([5, 10, 15, 20])
        ax.set_yticks(yt)
        ax.set_yticklabels(ytl, rotation=90, va="center")
        ax.tick_params(axis="both", labelsize=12, length=3, width=1, color=SPINE, pad=2,
                       labelcolor=TICKC, direction="out",
                       bottom=(r == 1), labelbottom=(r == 1), left=(c == 0), labelleft=(c == 0))
        for sp in ax.spines.values():
            sp.set_color(SPINE)
            sp.set_linewidth(1)
        ax.spines["right"].set_visible(c != 2)
        ax.text(0.034, 0.955, groups[c], transform=ax.transAxes, ha="left", va="top", fontsize=12)
        x1, y1, x2, y2 = eq_pos[r][c]
        ftext(x1, y1, f"y={icpts[c]:.3f}+{slopes[c]:.5f}x", ha="left", va="center",
              fontsize=11.5, color=ORANGE)
        ftext(x2, y2, stats[c], ha="left", va="center", fontsize=11.5, color=ORANGE)
        if r == 1:
            ftext((col_edges[c] + min(col_edges[c + 1], W)) / 2, 623, "Sequencing depth",
                  ha="center", va="center", fontsize=12)

ftext(399, 155, "No. of variants ( x10$^6$, MAF<10$^{-3}$ )", ha="center", va="center",
      rotation=90, fontsize=12)
ftext(399, 447, "No. of variants ( x10$^6$, MAF>10$^{-3}$ )", ha="center", va="center",
      rotation=90, fontsize=12)

fig.savefig("out.png", dpi=100)
